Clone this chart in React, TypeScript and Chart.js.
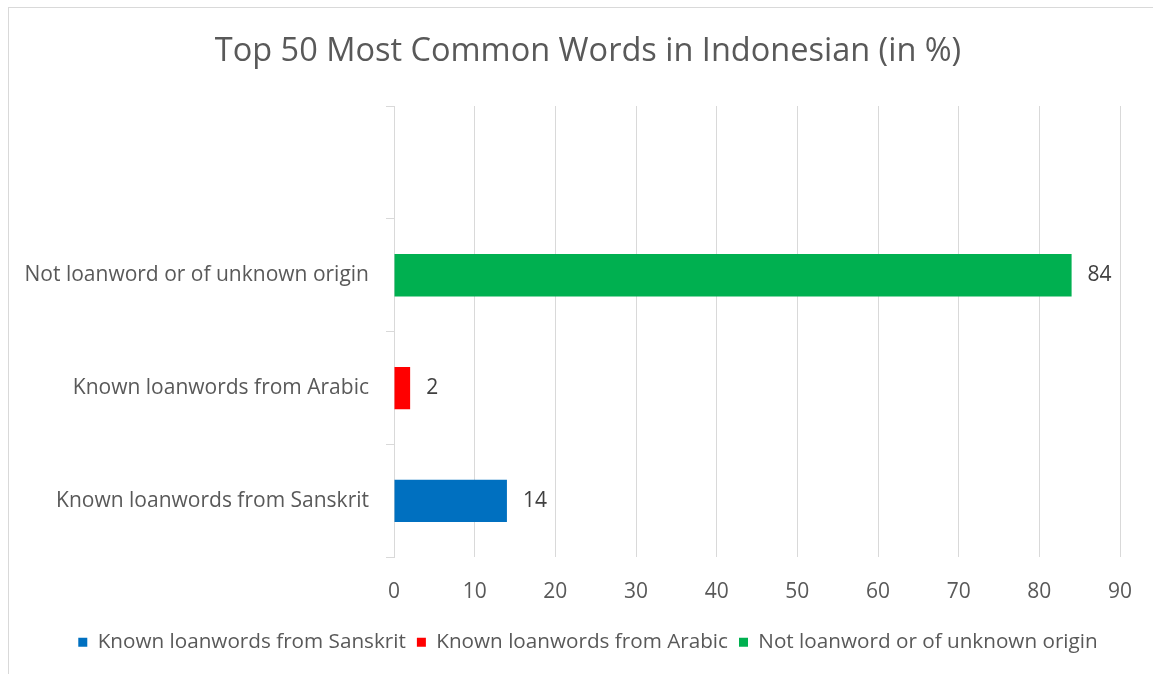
import React, { useEffect, useRef } from "react";
import { Chart, registerables } from "chart.js";

Chart.register(...registerables);

const chartTitle = "Top 50 Most Common Words in Indonesian (in %)";
const categories = [
  "",
  "Not loanword or of unknown origin",
  "Known loanwords from Arabic",
  "Known loanwords from Sanskrit",
];
const seriesNames = [
  "Known loanwords from Sanskrit",
  "Known loanwords from Arabic",
  "Not loanword or of unknown origin",
];
const sanskritValues = [null, null, null, 14];
const arabicValues = [null, null, 2, null];
const nativeValues = [null, 84, null, null];
const seriesColors = ["#0070C0", "#FF0000", "#00B050"];
const xMin = 0;
const xMax = 90;
const xStep = 10;

const FONT = "'Open Sans', 'DejaVu Sans', sans-serif";
const TEXT = "#595959";
const GRID = "#d9d9d9";

const dataLabelPlugin = {
  id: "dataLabels",
  afterDatasetsDraw(chart: any) {
    const ctx = chart.ctx;
    ctx.save();
    ctx.font = `21px ${FONT}`;
    ctx.fillStyle = "#404040";
    ctx.textAlign = "left";
    ctx.textBaseline = "middle";
    chart.data.datasets.forEach((ds: any, di: number) => {
      const meta = chart.getDatasetMeta(di);
      if (meta.hidden) return;
      meta.data.forEach((el: any, i: number) => {
        const v = ds.data[i];
        if (v === null || v === undefined) return;
        ctx.fillText(String(v), el.x + 16, el.y);
      });
    });
    ctx.restore();
  },
};

export default function App() {
  const canvasRef = useRef<HTMLCanvasElement | null>(null);

  useEffect(() => {
    if (!canvasRef.current) return;
    const valuesList = [sanskritValues, arabicValues, nativeValues];
    const chart = new Chart(canvasRef.current, {
      type: "bar",
      data: {
        labels: categories,
        datasets: seriesNames.map((name, i) => ({
          label: name,
          data: valuesList[i],
          backgroundColor: seriesColors[i],
          borderWidth: 0,
          skipNull: true,
          categoryPercentage: 1,
          barPercentage: 0.375,
        })),
      },
      options: {
        indexAxis: "y",
        animation: false,
        responsive: true,
        maintainAspectRatio: false,
        layout: { padding: { left: 0, right: 0, top: 0, bottom: 11.5 } },
        scales: {
          x: {
            min: xMin,
            max: xMax,
            ticks: {
              stepSize: xStep,
              padding: 22,
              color: TEXT,
              font: { family: FONT, size: 21 },
            },
            grid: { color: GRID, drawTicks: false, lineWidth: 1 },
            border: { display: false },
            afterFit: (s: any) => {
              s.height = 63.5;
            },
          },
          y: {
            type: "category",
            ticks: {
              padding: 17,
              color: TEXT,
              font: { family: FONT, size: 21 },
            },
            grid: {
              drawOnChartArea: false,
              drawTicks: true,
              tickLength: 8,
              color: GRID,
              offset: true,
            },
            border: { display: true, color: GRID },
            afterFit: (s: any) => {
              s.width = 385;
            },
          },
          spacer: {
            type: "linear",
            position: "right",
            min: 0,
            max: 1,
            ticks: { display: false },
            grid: { display: false },
            border: { display: false },
            afterFit: (s: any) => {
              s.width = 47;
            },
          },
        },
        plugins: {
          title: {
            display: true,
            text: chartTitle,
            color: TEXT,
            font: { family: FONT, size: 32.5, weight: "normal" },
            padding: { top: 24.5, bottom: 34.5 },
          },
          legend: {
            position: "bottom",
            labels: {
              boxWidth: 9,
              boxHeight: 9,
              padding: 11,
              color: TEXT,
              font: { family: FONT, size: 20.7 },
            },
          },
          tooltip: { enabled: true },
        },
      },
      plugins: [dataLabelPlugin],
    } as any);
    return () => chart.destroy();
  }, []);

  return (
    <div
      style={{
        position: "fixed",
        left: 8,
        top: 7,
        width: 1145,
        height: 667,
        borderTop: `1px solid ${GRID}`,
        borderLeft: `1px solid ${GRID}`,
        boxSizing: "border-box",
        background: "#fff",
        overflow: "hidden",
      }}
    >
      <div style={{ position: "relative", width: 1158, height: 666 }}>
        <canvas ref={canvasRef} />
      </div>
    </div>
  );
}
